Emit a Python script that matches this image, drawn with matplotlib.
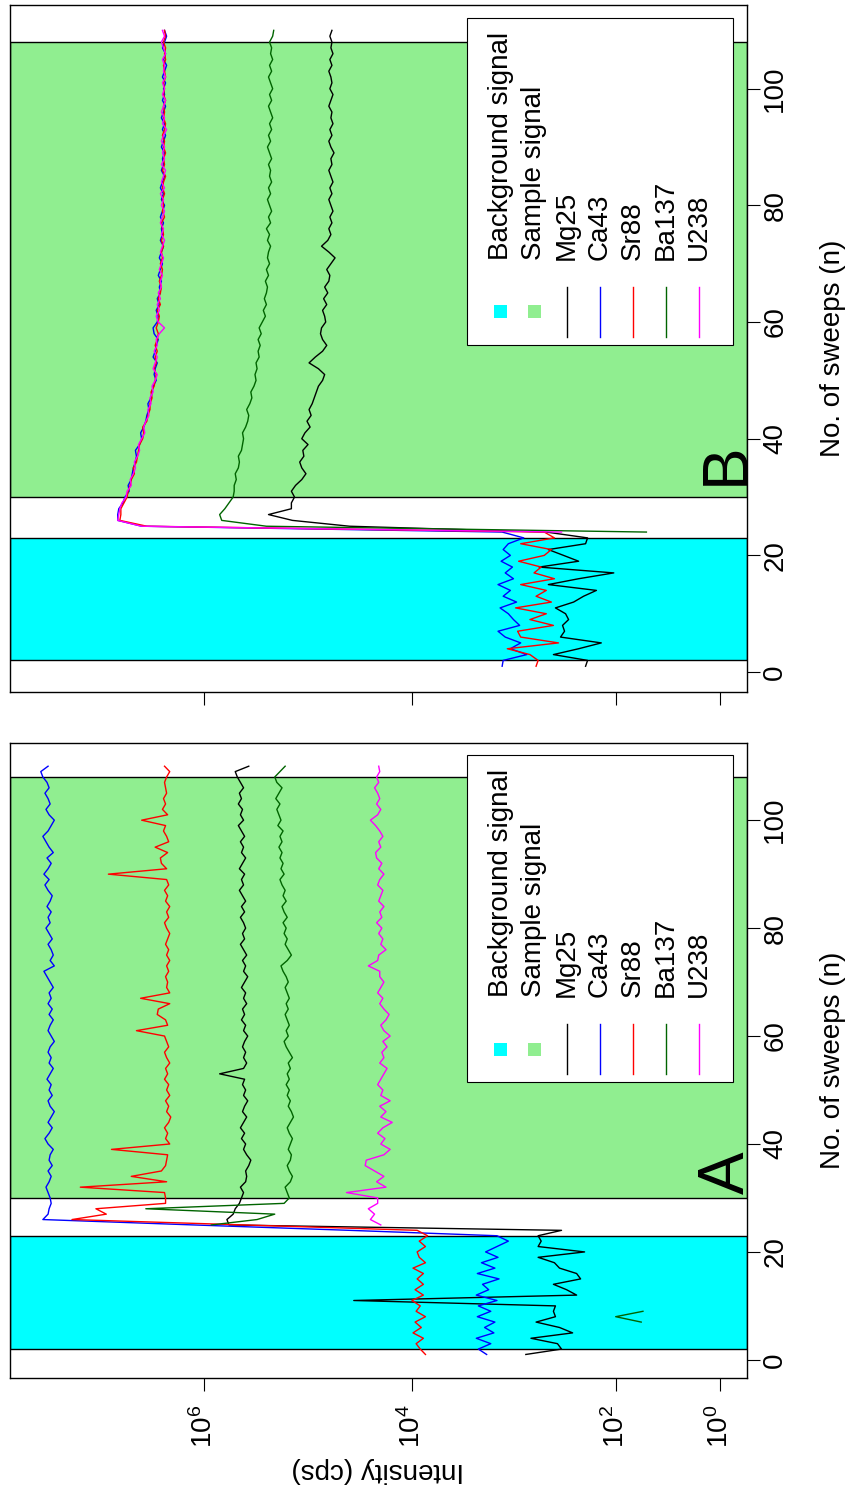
import numpy as np
import matplotlib.pyplot as plt
import matplotlib.transforms as mtransforms
from matplotlib.patches import Rectangle
from matplotlib.lines import Line2D
from matplotlib.ticker import NullLocator

plt.rcParams['font.family'] = ['Liberation Sans', 'DejaVu Sans']
plt.rcParams['mathtext.default'] = 'regular'

nan = np.nan
sweeps = np.arange(1, 111)
background = (2, 23)
sample = (30, 108)
int_ticks = [1e6, 1e4, 1e2, 1]
int_ticklabels = ['$10^6$', '$10^4$', '$10^2$', '$10^0$']
sweep_ticks = [0, 20, 40, 60, 80, 100]
isotopes = ['Mg25', 'Ca43', 'Sr88', 'Ba137', 'U238']
colors = ['black', 'blue', 'red', 'darkgreen', 'magenta']

# ---- run A : log10 intensity (cps) per sweep ----
mg25_a = [2.90, 2.55, 2.59, 2.85, 2.44, 2.57, 2.80, 2.61, 2.63, 2.61,
          4.56, 2.40, 2.50, 2.63, 2.36, 2.40, 2.57, 2.62, 2.78, 2.32,
          2.78, 2.75, 2.78, 2.55, 5.76, 5.78, 5.72, 5.70, 5.66, 5.64,
          5.62, 5.65, 5.60, 5.59, 5.60, 5.57, 5.55, 5.59, 5.62, 5.60,
          5.64, 5.61, 5.65, 5.62, 5.59, 5.63, 5.61, 5.58, 5.62, 5.60,
          5.63, 5.61, 5.85, 5.62, 5.59, 5.62, 5.60, 5.63, 5.61, 5.58,
          5.62, 5.60, 5.64, 5.61, 5.63, 5.59, 5.62, 5.60, 5.64, 5.61,
          5.58, 5.62, 5.60, 5.63, 5.59, 5.62, 5.65, 5.61, 5.63, 5.60,
          5.62, 5.65, 5.61, 5.64, 5.60, 5.63, 5.66, 5.62, 5.64, 5.61,
          5.66, 5.63, 5.60, 5.64, 5.62, 5.65, 5.61, 5.64, 5.67, 5.62,
          5.65, 5.63, 5.67, 5.64, 5.66, 5.62, 5.65, 5.68, 5.70, 5.57]
ca43_a = [3.28, 3.36, 3.24, 3.38, 3.21, 3.30, 3.20, 3.37, 3.24, 3.36,
          3.18, 3.38, 3.26, 3.32, 3.16, 3.37, 3.20, 3.33, 3.17, 3.29,
          3.18, 3.07, 3.18, 4.60, 6.10, 7.55, 7.50, 7.49, 7.47, 7.48,
          7.50, 7.52, 7.49, 7.47, 7.50, 7.46, 7.49, 7.48, 7.45, 7.50,
          7.53, 7.49, 7.46, 7.50, 7.47, 7.44, 7.48, 7.50, 7.46, 7.49,
          7.47, 7.51, 7.48, 7.45, 7.49, 7.47, 7.50, 7.48, 7.44, 7.47,
          7.50, 7.48, 7.45, 7.49, 7.46, 7.50, 7.47, 7.49, 7.45, 7.48,
          7.51, 7.54, 7.44, 7.48, 7.45, 7.47, 7.50, 7.46, 7.49, 7.52,
          7.48, 7.50, 7.47, 7.51, 7.48, 7.46, 7.50, 7.53, 7.49, 7.54,
          7.50, 7.47, 7.51, 7.45, 7.49, 7.52, 7.55, 7.50, 7.47, 7.44,
          7.49, 7.52, 7.48, 7.50, 7.53, 7.49, 7.51, 7.55, 7.57, 7.50]
sr88_a = [3.87, 3.92, 3.96, 3.89, 3.99, 3.91, 3.97, 3.87, 3.96, 3.92,
          4.00, 3.89, 3.97, 3.89, 3.95, 3.89, 3.99, 3.87, 3.93, 3.95,
          3.87, 3.93, 3.85, 3.95, 5.61, 7.27, 6.94, 7.04, 6.37, 6.37,
          6.38, 7.19, 6.36, 6.70, 6.41, 6.37, 6.36, 6.35, 6.89, 6.33,
          6.37, 6.35, 6.38, 6.34, 6.32, 6.36, 6.34, 6.37, 6.33, 6.36,
          6.34, 6.38, 6.35, 6.37, 6.33, 6.36, 6.38, 6.34, 6.36, 6.38,
          6.65, 6.35, 6.37, 6.45, 6.44, 6.33, 6.61, 6.33, 6.36, 6.35,
          6.37, 6.34, 6.36, 6.33, 6.36, 6.34, 6.37, 6.35, 6.33, 6.36,
          6.38, 6.34, 6.36, 6.33, 6.37, 6.35, 6.38, 6.34, 6.36, 6.92,
          6.36, 6.41, 6.42, 6.35, 6.47, 6.34, 6.36, 6.39, 6.37, 6.60,
          6.35, 6.40, 6.37, 6.39, 6.36, 6.37, 6.38, 6.36, 6.33, 6.38]
ba137_a = [nan, nan, nan, nan, nan, nan, 1.72, 2.00, 1.70, nan,
           nan, nan, nan, nan, nan, nan, nan, nan, nan, nan,
           nan, nan, nan, nan, 5.93, 5.49, 5.32, 6.56, 5.23, 5.18,
           5.20, 5.22, 5.17, 5.15, 5.18, 5.20, 5.17, 5.16, 5.19, 5.17,
           5.15, 5.18, 5.20, 5.17, 5.14, 5.16, 5.19, 5.17, 5.20, 5.18,
           5.21, 5.18, 5.20, 5.17, 5.19, 5.15, 5.18, 5.21, 5.23, 5.19,
           5.21, 5.18, 5.20, 5.22, 5.19, 5.21, 5.18, 5.20, 5.22, 5.19,
           5.21, 5.24, 5.26, 5.20, 5.16, 5.19, 5.22, 5.20, 5.23, 5.21,
           5.24, 5.20, 5.23, 5.25, 5.21, 5.24, 5.22, 5.25, 5.27, 5.23,
           5.26, 5.24, 5.27, 5.25, 5.28, 5.25, 5.27, 5.24, 5.29, 5.26,
           5.28, 5.30, 5.27, 5.31, 5.28, 5.25, 5.30, 5.32, 5.27, 5.22]
u238_a = [nan, nan, nan, nan, nan, nan, nan, nan, nan, nan,
          nan, nan, nan, nan, nan, nan, nan, nan, nan, nan,
          nan, nan, nan, nan, 4.30, 4.40, 4.36, 4.42, 4.33, 4.33,
          4.63, 4.25, 4.34, 4.27, 4.36, 4.45, 4.44, 4.27, 4.21, 4.30,
          4.26, 4.33, 4.28, 4.19, 4.30, 4.25, 4.31, 4.21, 4.30, 4.28,
          4.33, 4.30, 4.27, 4.24, 4.31, 4.27, 4.29, 4.24, 4.28, 4.21,
          4.27, 4.30, 4.25, 4.22, 4.27, 4.31, 4.28, 4.33, 4.30, 4.27,
          4.31, 4.31, 4.42, 4.33, 4.32, 4.25, 4.30, 4.28, 4.32, 4.29,
          4.34, 4.29, 4.31, 4.27, 4.32, 4.30, 4.28, 4.33, 4.31, 4.27,
          4.32, 4.29, 4.34, 4.35, 4.30, 4.32, 4.28, 4.31, 4.35, 4.40,
          4.33, 4.30, 4.34, 4.31, 4.33, 4.36, 4.32, 4.34, 4.31, 4.32]

# ---- run B ----
mg25_b = [2.31, 2.29, 2.63, 2.38, 2.15, 2.56, 2.52, 2.54, 2.48, 2.51,
          2.61, 2.43, 2.33, 2.20, 2.68, 2.38, 2.02, 2.77, 2.38, 2.53,
          2.68, 2.31, 2.29, 2.70, 4.60, 5.15, 5.38, 5.16, 5.16, 5.13,
          5.16, 5.12, 5.06, 5.02, 5.06, 5.08, 5.04, 5.05, 5.00, 5.06,
          5.03, 4.98, 5.01, 4.97, 4.99, 4.96, 4.94, 4.92, 4.90, 4.86,
          4.84, 4.90, 4.99, 4.93, 4.86, 4.82, 4.86, 4.88, 4.87, 4.83,
          4.84, 4.86, 4.82, 4.85, 4.81, 4.84, 4.80, 4.79, 4.82, 4.78,
          4.74, 4.80, 4.87, 4.81, 4.78, 4.80, 4.77, 4.79, 4.76, 4.78,
          4.80, 4.77, 4.79, 4.76, 4.78, 4.80, 4.77, 4.78, 4.75, 4.78,
          4.80, 4.77, 4.79, 4.76, 4.78, 4.77, 4.80, 4.78, 4.76, 4.79,
          4.77, 4.78, 4.80, 4.77, 4.79, 4.76, 4.78, 4.77, 4.79, 4.77]
ca43_b = [3.13, 3.12, 2.89, 3.05, 2.95, 3.10, 3.17, 2.96, 3.02, 3.07,
          3.15, 2.99, 3.12, 3.05, 3.17, 3.02, 3.10, 3.03, 3.14, 3.05,
          3.12, 3.07, 2.92, 3.13, 6.60, 6.83, 6.83, 6.82, 6.78, 6.76,
          6.72, 6.73, 6.70, 6.69, 6.68, 6.66, 6.65, 6.66, 6.62, 6.60,
          6.61, 6.58, 6.56, 6.55, 6.53, 6.54, 6.51, 6.50, 6.49, 6.46,
          6.48, 6.47, 6.45, 6.49, 6.47, 6.46, 6.44, 6.48, 6.49, 6.45,
          6.44, 6.46, 6.43, 6.45, 6.42, 6.43, 6.41, 6.44, 6.42, 6.40,
          6.43, 6.41, 6.39, 6.42, 6.40, 6.41, 6.39, 6.42, 6.40, 6.38,
          6.41, 6.39, 6.42, 6.40, 6.38, 6.41, 6.39, 6.40, 6.38, 6.41,
          6.39, 6.37, 6.40, 6.38, 6.41, 6.39, 6.37, 6.40, 6.38, 6.39,
          6.37, 6.40, 6.38, 6.36, 6.39, 6.37, 6.40, 6.38, 6.36, 6.38]
sr88_b = [2.80, 2.78, 2.86, 3.08, 2.58, 2.95, 2.98, 2.63, 2.86, 2.70,
          3.00, 2.65, 2.80, 2.70, 2.95, 2.62, 2.82, 2.75, 2.97, 2.72,
          2.65, 2.95, 2.62, 2.72, 6.55, 6.81, 6.80, 6.80, 6.77, 6.74,
          6.73, 6.71, 6.70, 6.67, 6.68, 6.65, 6.64, 6.63, 6.62, 6.59,
          6.58, 6.59, 6.55, 6.54, 6.52, 6.52, 6.50, 6.51, 6.48, 6.47,
          6.46, 6.48, 6.46, 6.47, 6.45, 6.47, 6.45, 6.44, 6.46, 6.44,
          6.43, 6.45, 6.42, 6.44, 6.42, 6.41, 6.43, 6.41, 6.40, 6.42,
          6.40, 6.41, 6.39, 6.41, 6.39, 6.40, 6.41, 6.38, 6.40, 6.39,
          6.40, 6.38, 6.40, 6.39, 6.37, 6.40, 6.38, 6.39, 6.37, 6.39,
          6.38, 6.40, 6.38, 6.37, 6.39, 6.38, 6.39, 6.37, 6.39, 6.38,
          6.39, 6.37, 6.38, 6.39, 6.37, 6.38, 6.37, 6.39, 6.37, 6.38]
ba137_b = [nan, nan, nan, nan, nan, nan, nan, nan, nan, nan,
           nan, nan, nan, nan, nan, nan, nan, nan, nan, nan,
           nan, nan, nan, 1.66, 5.40, 5.83, 5.85, 5.80, 5.76, 5.72,
           5.71, 5.71, 5.69, 5.70, 5.67, 5.66, 5.67, 5.64, 5.63, 5.62,
           5.63, 5.60, 5.58, 5.57, 5.59, 5.56, 5.54, 5.55, 5.52, 5.50,
           5.51, 5.49, 5.50, 5.47, 5.48, 5.46, 5.48, 5.45, 5.47, 5.44,
           5.41, 5.43, 5.40, 5.42, 5.40, 5.39, 5.41, 5.38, 5.40, 5.37,
           5.39, 5.38, 5.36, 5.39, 5.37, 5.40, 5.36, 5.38, 5.35, 5.37,
           5.39, 5.36, 5.38, 5.35, 5.37, 5.36, 5.38, 5.35, 5.37, 5.39,
           5.36, 5.38, 5.35, 5.37, 5.34, 5.36, 5.38, 5.35, 5.37, 5.34,
           5.36, 5.38, 5.35, 5.37, 5.34, 5.36, 5.35, 5.37, 5.34, 5.33]
u238_b = [nan, nan, nan, nan, nan, nan, nan, nan, nan, nan,
          nan, nan, nan, nan, nan, nan, nan, nan, nan, nan,
          nan, nan, nan, 2.55, 6.60, 6.83, 6.82, 6.81, 6.79, 6.75,
          6.74, 6.70, 6.71, 6.68, 6.66, 6.67, 6.64, 6.62, 6.63, 6.60,
          6.57, 6.58, 6.56, 6.53, 6.54, 6.51, 6.52, 6.49, 6.50, 6.47,
          6.45, 6.49, 6.47, 6.45, 6.48, 6.45, 6.46, 6.43, 6.38, 6.44,
          6.46, 6.43, 6.45, 6.42, 6.44, 6.41, 6.42, 6.40, 6.43, 6.41,
          6.39, 6.42, 6.40, 6.38, 6.41, 6.39, 6.42, 6.40, 6.38, 6.41,
          6.39, 6.42, 6.38, 6.41, 6.39, 6.37, 6.41, 6.38, 6.40, 6.38,
          6.41, 6.39, 6.36, 6.40, 6.38, 6.41, 6.39, 6.37, 6.40, 6.38,
          6.40, 6.37, 6.39, 6.38, 6.40, 6.37, 6.39, 6.41, 6.38, 6.40]


# intensity axis: log10(cps + 10), so the low end stays finite
def fwd(v):
    return np.log10(np.maximum(np.asarray(v, dtype=float) + 10, 1e-9))


def inv(u):
    return 10 ** np.asarray(u, dtype=float) - 10


FS = 20


def draw_key(ax):
    # legend box in pixel offsets from the top-right corner of the axes
    W, H = ax.bbox.width, ax.bbox.height
    left, bottom = 1 - (13.5 + 266) / W, 1 - (12.7 + 327) / H

    def pt(dx, dy):
        return left + dx / W, bottom + dy / H

    ax.add_patch(Rectangle(pt(0, 0), 266 / W, 327 / H, transform=ax.transAxes,
                           facecolor='white', edgecolor='black', lw=0.8,
                           zorder=5, clip_on=False))
    labels = ['Background signal', 'Sample signal'] + isotopes
    cols = [33.5, 67, 100, 133, 166, 199, 232]
    for x, lab in zip(cols, labels):
        ax.text(*pt(x, 85), lab, transform=ax.transAxes, rotation=90,
                rotation_mode='anchor', ha='left', va='center',
                fontsize=FS, zorder=6)
    for x, c in zip(cols[:2], ['cyan', 'lightgreen']):
        ax.add_patch(Rectangle(pt(x - 6.5, 26.5), 13 / W, 13 / H,
                               transform=ax.transAxes, facecolor=c,
                               edgecolor='none', zorder=6))
    for x, c in zip(cols[2:], colors):
        x0, y0 = pt(x, 8)
        x1, y1 = pt(x, 58)
        ax.add_line(Line2D([x0, x1], [y0, y1], transform=ax.transAxes,
                           color=c, lw=1.0, zorder=6))


def draw_panel(ax, series, letter, letter_at, bottom_labels):
    ax.set_xscale('function', functions=(fwd, inv))
    ax.set_xlim(inv(7.869), inv(0.783))
    ax.set_ylim(-3.36, 114.36)
    ax.axhspan(*background, facecolor='cyan', edgecolor='black', lw=1.0, zorder=1)
    ax.axhspan(*sample, facecolor='lightgreen', edgecolor='black', lw=1.0, zorder=1)
    for vals, c in zip(series, colors):
        ax.plot(10 ** np.asarray(vals), sweeps, color=c, lw=1.0, zorder=3)

    ax.set_xticks(int_ticks)
    ax.xaxis.set_minor_locator(NullLocator())
    ax.set_yticks(sweep_ticks)
    ax.yaxis.tick_right()
    ax.yaxis.set_label_position('right')
    ax.tick_params(axis='both', direction='out', length=9.4, width=0.8,
                   labelsize=FS)
    ax.tick_params(axis='x', pad=10, labelrotation=90)
    ax.tick_params(axis='y', pad=2, labelrotation=90)
    for t in ax.get_yticklabels():
        t.set_va('center')
    if bottom_labels:
        ax.set_xticklabels(int_ticklabels)
        ax.set_xlabel('Intensity (cps)', fontsize=FS, rotation=180, labelpad=6)
    else:
        ax.set_xticklabels([])
    ax.set_ylabel('No. of sweeps (n)', fontsize=FS, labelpad=23)
    for s in ax.spines.values():
        s.set_linewidth(1.0)

    tr = mtransforms.blended_transform_factory(ax.transAxes, ax.transData)
    ax.text(0.9966, letter_at, letter, transform=tr, rotation=90,
            rotation_mode='anchor', ha='left', va='baseline', fontsize=46,
            zorder=4)
    draw_key(ax)


fig = plt.figure(figsize=(8.53, 14.91), dpi=100)
ax_b = fig.add_axes([0.01137, 0.5361, 0.8638, 0.4606])
ax_a = fig.add_axes([0.01137, 0.07579, 0.8638, 0.4261])

draw_panel(ax_a, [mg25_a, ca43_a, sr88_a, ba137_a, u238_a], 'A', 30.8, True)
draw_panel(ax_b, [mg25_b, ca43_b, sr88_b, ba137_b, u238_b], 'B', 32.1, False)

fig.savefig('out.png', dpi=100)
